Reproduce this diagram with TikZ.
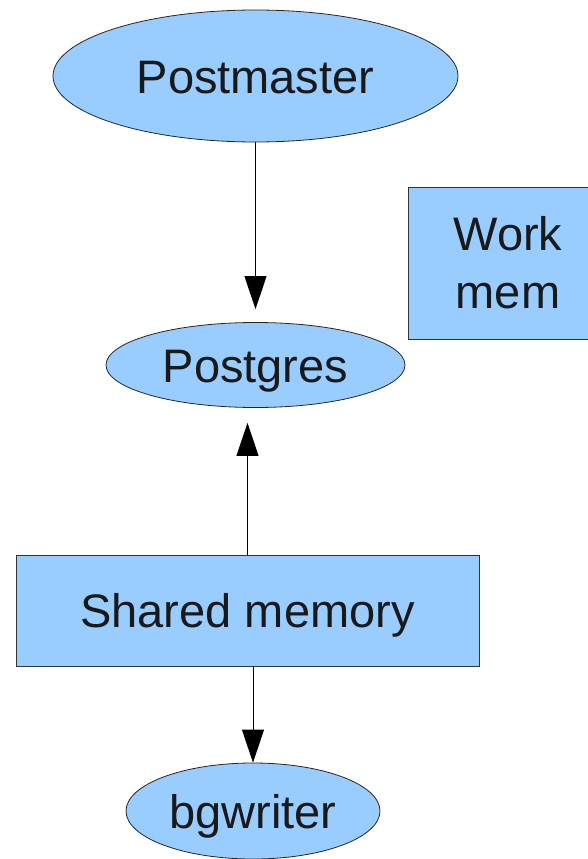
\documentclass[tikz,border=0pt]{standalone}
\usepackage{fontspec}
\setmainfont{Liberation Sans}
\usetikzlibrary{arrows.meta, calc, positioning, shapes.geometric}

\definecolor{procblue}{HTML}{99CCFF}
\tikzset{
	proc/.style={ellipse, draw=black!85, fill=procblue, inner sep=0pt, line width=0.8pt, text height=34pt, text depth=0pt},
	memblock/.style={rectangle, draw=black!80, fill=procblue, inner sep=0pt, line width=0.8pt, align=center},
	flow/.style={line width=0.9pt, -{Triangle[width=22pt,length=33pt]}}
}

\begin{document}
\begin{tikzpicture}[x=1pt, y=-1pt, font=\fontsize{47}{58}\selectfont, text=black!90]
	\path[use as bounding box, clip] (0,0) rectangle (588,859);

	% processes
	\node[proc, minimum width=405pt, minimum height=132pt] (pmaster) at (255.5,76) {Postmaster};
	\node[proc, minimum width=299pt, minimum height=85pt] (pgres) at (255.5,365) {Postgres};
	\node[proc, minimum width=254pt, minimum height=96pt] (bgw) at (253,811) {bgwriter};

	% memory areas
	\node[memblock, minimum width=200pt, minimum height=152pt] (workmem) at (508,263) {Work\\mem};
	\node[memblock, minimum width=463pt, minimum height=111pt, text height=34pt, text depth=0pt] (shmem) at (247.5,610.5) {Shared memory};

	% connectors
	\draw[flow, shorten >=13pt] (pmaster.south) -- (pgres.north);
	\draw[flow, shorten >=15pt] (shmem.north) -- (shmem.north |- pgres.south);
	\draw[flow] (shmem.south -| bgw.north) -- (bgw.north);
\end{tikzpicture}
\end{document}
